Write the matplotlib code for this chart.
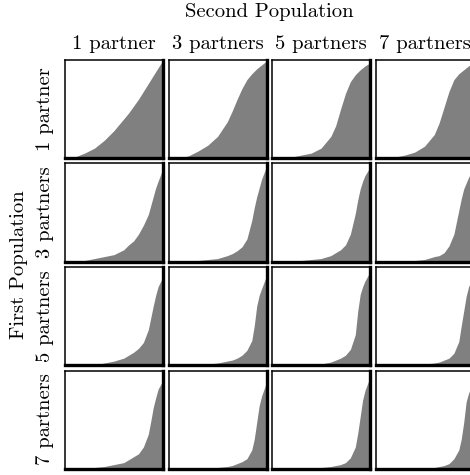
#Mixing curves: first population vs second population

import numpy as np
import matplotlib
matplotlib.use('Agg')
import matplotlib.pyplot as plt

plt.rcParams['font.family'] = 'cmr10'
plt.rcParams['axes.formatter.use_mathtext'] = True

labels = ['1 partner', '3 partners', '5 partners', '7 partners']

# shared x positions for every panel
x = [0, 0.1, 0.2, 0.3, 0.4, 0.5, 0.6, 0.65, 0.7, 0.75, 0.8, 0.85, 0.875, 0.9, 0.925, 0.95, 1.0]

# rows = first population, columns = second population
row1 = [
    [0, .01, .05, .10, .18, .28, .40, .46, .53, .60, .68, .76, .80, .84, .88, .92, 1.0],
    [0, 0, .02, .07, .13, .22, .37, .48, .60, .71, .80, .86, .885, .91, .93, .95, .99],
    [0, 0, .01, .03, .05, .10, .22, .33, .50, .66, .78, .85, .875, .90, .92, .94, .97],
    [0, 0, .01, .03, .06, .12, .24, .36, .52, .68, .80, .86, .88, .90, .92, .94, .97],
]
row2 = [
    [0, 0, .01, .03, .05, .07, .12, .17, .21, .28, .37, .48, .57, .66, .75, .82, .95],
    [0, 0, 0, .01, .02, .03, .06, .08, .11, .15, .23, .42, .55, .66, .75, .84, .97],
    [0, 0, 0, .01, .02, .03, .06, .09, .12, .17, .28, .49, .63, .74, .82, .88, .96],
    [0, 0, 0, 0, .01, .02, .05, .06, .09, .16, .28, .52, .64, .74, .80, .86, .94],
]
row3 = [
    [0, 0, 0, 0, .02, .04, .07, .10, .13, .17, .23, .36, .48, .60, .71, .80, .90],
    [0, 0, 0, 0, .01, .02, .04, .05, .07, .10, .15, .25, .40, .60, .71, .78, .91],
    [0, 0, 0, 0, .01, .01, .03, .05, .07, .10, .16, .31, .55, .72, .80, .86, .95],
    [0, 0, 0, 0, 0, .01, .02, .03, .05, .07, .12, .24, .40, .55, .70, .80, .90],
]
row4 = [
    [0, 0, 0, .01, .02, .04, .06, .09, .12, .15, .22, .35, .48, .62, .72, .81, .90],
    [0, 0, 0, 0, .01, .01, .02, .03, .05, .07, .10, .19, .30, .47, .64, .74, .88],
    [0, 0, 0, 0, 0, .01, .02, .03, .04, .06, .11, .22, .36, .53, .70, .80, .93],
    [0, 0, 0, 0, 0, .01, .01, .02, .03, .05, .10, .19, .30, .47, .68, .77, .88],
]
rows = [row1, row2, row3, row4]

W, H = 470, 475
fig = plt.figure(figsize=(W / 100, H / 100), dpi=100)

left, top = 65, 60      # pixels
cell, pitch = 98, 103.5

for i, row in enumerate(rows):
    for j, y in enumerate(row):
        ax = fig.add_axes([(left + j * pitch) / W,
                           1 - (top + i * pitch + cell) / H,
                           cell / W, cell / H])
        ax.fill_between(x, y, 0, color='#808080', lw=0)
        ax.set_xlim(0, 1)
        ax.set_ylim(0, 1)
        ax.set_xticks([])
        ax.set_yticks([])
        ax.spines['left'].set_linewidth(1.1)
        ax.spines['top'].set_linewidth(1.1)
        ax.spines['right'].set_linewidth(2.4)
        ax.spines['bottom'].set_linewidth(2.4)

fs = 14.8
cx = (left + (4 * pitch - 5.5) / 2) / W
cy = 1 - (top + (4 * pitch - 5.5) / 2) / H
fig.text(cx, 1 - 12 / H, 'Second Population', ha='center', va='center', fontsize=fs)
fig.text(19 / W, cy, 'First Population', ha='center', va='center',
         rotation=90, fontsize=fs)
for k, lab in enumerate(labels):
    fig.text((left + k * pitch + cell / 2) / W, 1 - 44 / H, lab,
             ha='center', va='center', fontsize=fs)
    fig.text(45 / W, 1 - (top + k * pitch + cell / 2) / H, lab,
             ha='center', va='center', rotation=90, fontsize=fs)

fig.savefig('out.png', dpi=100)
